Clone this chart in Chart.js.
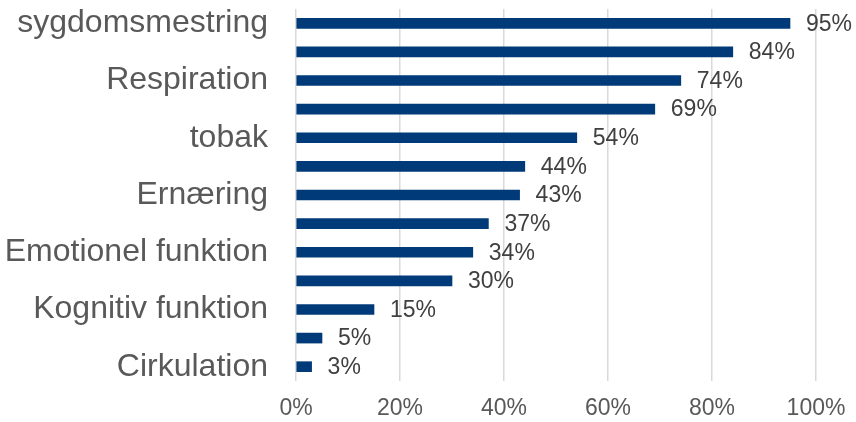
<!DOCTYPE html>
<html>
<head>
<meta charset="utf-8">
<script src="https://cdn.jsdelivr.net/npm/chart.js"></script>
<style>
  html, body { margin: 0; padding: 0; background: #fff; }
  #wrap { width: 856px; height: 422px; }
</style>
</head>
<body>
<div id="wrap"><canvas id="chart" width="856" height="422"></canvas></div>
<script>
// only every other category label is visible in the source
const categories = [
  'sygdomsmestring', '', 'Respiration', '', 'tobak', '', 'Ernæring',
  '', 'Emotionel funktion', '', 'Kognitiv funktion', '', 'Cirkulation'
];
const shares = [95, 84, 74, 69, 54, 44, 43, 37, 34, 30, 15, 5, 3];
const xTicks = [0, 20, 40, 60, 80, 100];

const FONT = "'Liberation Sans', Arial, sans-serif";

// draw "NN%" right of each bar
const valueLabels = {
  id: 'valueLabels',
  afterDatasetsDraw(chart) {
    const ctx = chart.ctx;
    const meta = chart.getDatasetMeta(0);
    ctx.save();
    ctx.font = '23px ' + FONT;
    ctx.fillStyle = '#404040';
    ctx.textAlign = 'left';
    ctx.textBaseline = 'middle';
    meta.data.forEach((bar, i) => {
      ctx.fillText(shares[i] + '%', bar.x + 16, bar.y + 1);
    });
    ctx.restore();
  }
};

new Chart(document.getElementById('chart').getContext('2d'), {
  type: 'bar',
  data: {
    labels: categories,
    datasets: [{
      data: shares,
      backgroundColor: '#003a78',
      barThickness: 10
    }]
  },
  options: {
    indexAxis: 'y',
    responsive: false,
    animation: false,
    layout: { padding: { top: 9, right: 40, left: 0, bottom: 0 } },
    plugins: {
      legend: { display: false },
      tooltip: { enabled: false }
    },
    scales: {
      x: {
        min: 0,
        max: 100,
        afterBuildTicks: (axis) => { axis.ticks = xTicks.map(v => ({ value: v })); },
        afterFit: (axis) => {
          axis.height = 41;
          axis.paddingLeft = 0;
          axis.paddingRight = 0;
        },
        border: { display: false },
        grid: { color: '#d9d9d9', lineWidth: 1.5, drawTicks: false },
        ticks: {
          color: '#595959',
          font: { family: FONT, size: 23 },
          padding: 14,
          callback: (v) => v + '%'
        }
      },
      y: {
        afterFit: (axis) => {
          axis.width = 296;
          // tick padding would otherwise push the plot down
          axis.paddingTop = 0;
          axis.paddingBottom = 0;
        },
        border: { display: false },
        grid: { display: false, drawTicks: false },
        ticks: {
          autoSkip: false,
          color: '#595959',
          font: { family: FONT, size: 32 },
          padding: 28
        }
      }
    }
  },
  plugins: [valueLabels]
});
</script>
</body>
</html>
